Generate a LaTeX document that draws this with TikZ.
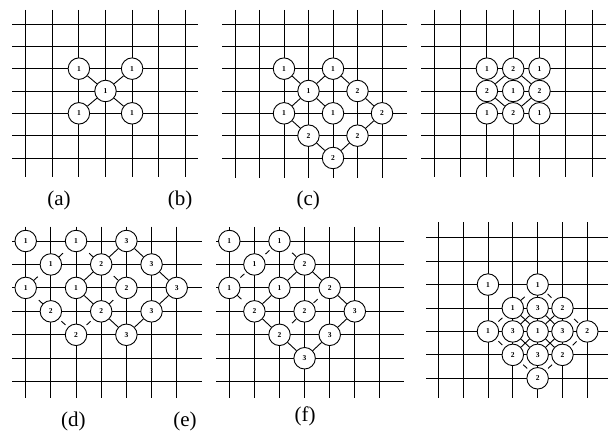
\documentclass[tikz,border=0pt]{standalone}
\usepackage{fontspec}
\setmainfont{Liberation Serif}
\usetikzlibrary{calc}
\tikzset{
  gln/.style={line width=0.9pt},
  vx/.style={circle,draw,fill=white,minimum size=21.5pt,inner sep=0pt,line width=0.9pt,font=\fontsize{7.5}{8}\selectfont\bfseries},
  lk/.style={line width=0.9pt},
  capt/.style={font=\fontsize{21}{24}\selectfont,inner sep=0pt}
}
\newcommand\tk[4]{\draw[lk] ($(#1)!#3!(#2)$) -- ($(#1)!#4!(#2)$);}
\newcommand\pgrid[4]{\foreach \i in {0,...,6} {\draw[gln] (\i,#3) -- (\i,#4); \draw[gln] (#1,\i) -- (#2,\i);}}
\begin{document}
\begin{tikzpicture}[x=1pt,y=-1pt]
\useasboundingbox (0,0) rectangle (609,433);

% ---------- panel (a) ----------
\begin{scope}[shift={(25.7pt,-24pt)},x=26.6pt,y=-22.33pt]
\pgrid{-0.504}{6.48}{-0.627}{6.85}
\node[vx] (a1) at (2,2) {1};
\node[vx] (a2) at (4,2) {1};
\node[vx] (a3) at (3,3) {1};
\node[vx] (a4) at (2,4) {1};
\node[vx] (a5) at (4,4) {1};
\draw[lk] (a3) -- (a1);
\draw[lk] (a3) -- (a2);
\draw[lk] (a3) -- (a4);
\draw[lk] (a3) -- (a5);
\end{scope}

% ---------- panel (c) ----------
\begin{scope}[shift={(235pt,-24pt)},x=24.5pt,y=-22.33pt]
\pgrid{-0.53}{7.02}{-0.627}{6.88}
\node[vx] (c1) at (2,2) {1};
\node[vx] (c2) at (4,2) {1};
\node[vx] (c3) at (3,3) {1};
\node[vx] (c4) at (5,3) {2};
\node[vx] (c5) at (2,4) {1};
\node[vx] (c6) at (4,4) {1};
\node[vx] (c7) at (6,4) {2};
\node[vx] (c8) at (3,5) {2};
\node[vx] (c9) at (5,5) {2};
\node[vx] (c10) at (4,6) {2};
\draw[lk] (c3) -- (c1);
\draw[lk] (c3) -- (c2);
\draw[lk] (c3) -- (c5);
\draw[lk] (c3) -- (c6);
\draw[lk] (c2) -- (c4);
\draw[lk] (c4) -- (c7);
\draw[lk] (c7) -- (c9);
\draw[lk] (c9) -- (c10);
\draw[lk] (c5) -- (c8);
\draw[lk] (c8) -- (c10);
\end{scope}

% ---------- top right panel ----------
\begin{scope}[shift={(434.3pt,-24pt)},x=26.3pt,y=-22.33pt]
\pgrid{-0.49}{6.52}{-0.627}{6.85}
\node[vx] (b11) at (2,2) {1};
\node[vx] (b12) at (3,2) {2};
\node[vx] (b13) at (4,2) {1};
\node[vx] (b21) at (2,3) {2};
\node[vx] (b22) at (3,3) {1};
\node[vx] (b23) at (4,3) {2};
\node[vx] (b31) at (2,4) {1};
\node[vx] (b32) at (3,4) {2};
\node[vx] (b33) at (4,4) {1};
\draw[lk] (b12) -- (b21);
\draw[lk] (b12) -- (b23);
\draw[lk] (b21) -- (b32);
\draw[lk] (b23) -- (b32);
\end{scope}

% ---------- panel (d) ----------
\begin{scope}[shift={(25.7pt,-241pt)},x=25.17pt,y=-23.45pt]
\pgrid{-0.53}{7.0}{-0.61}{6.68}
\node[vx] (d1) at (0,0) {1};
\node[vx] (d2) at (2,0) {1};
\node[vx] (d3) at (4,0) {3};
\node[vx] (d4) at (1,1) {1};
\node[vx] (d5) at (3,1) {2};
\node[vx] (d6) at (5,1) {3};
\node[vx] (d7) at (0,2) {1};
\node[vx] (d8) at (2,2) {1};
\node[vx] (d9) at (4,2) {2};
\node[vx] (d10) at (6,2) {3};
\node[vx] (d11) at (1,3) {2};
\node[vx] (d12) at (3,3) {2};
\node[vx] (d13) at (5,3) {3};
\node[vx] (d14) at (2,4) {2};
\node[vx] (d15) at (4,4) {3};
\draw[lk] (d3) -- (d5);
\draw[lk] (d3) -- (d6);
\draw[lk] (d6) -- (d10);
\draw[lk] (d10) -- (d13);
\draw[lk] (d13) -- (d15);
\draw[lk] (d12) -- (d15);
\draw[lk] (d5) -- (d8);
\draw[lk] (d8) -- (d12);
\tk{d2}{d4}{0.52}{0.68}
\tk{d4}{d7}{0.52}{0.68}
\tk{d2}{d5}{0.52}{0.68}
\tk{d7}{d11}{0.52}{0.68}
\tk{d5}{d9}{0.50}{0.66}
\tk{d9}{d12}{0.52}{0.68}
\tk{d11}{d14}{0.42}{0.58}
\tk{d14}{d12}{0.42}{0.58}
\end{scope}

% ---------- panel (f) ----------
\begin{scope}[shift={(229.3pt,-241pt)},x=25.1pt,y=-23.45pt]
\pgrid{-0.53}{6.96}{-0.6}{6.68}
\node[vx] (f1) at (0,0) {1};
\node[vx] (f2) at (2,0) {1};
\node[vx] (f3) at (1,1) {1};
\node[vx] (f4) at (3,1) {2};
\node[vx] (f5) at (0,2) {1};
\node[vx] (f6) at (2,2) {1};
\node[vx] (f7) at (4,2) {2};
\node[vx] (f8) at (1,3) {2};
\node[vx] (f9) at (3,3) {2};
\node[vx] (f10) at (5,3) {3};
\node[vx] (f11) at (2,4) {2};
\node[vx] (f12) at (4,4) {3};
\node[vx] (f13) at (3,5) {3};
\draw[lk] (f4) -- (f6);
\draw[lk] (f4) -- (f7);
\draw[lk] (f6) -- (f8);
\draw[lk] (f7) -- (f10);
\draw[lk] (f8) -- (f11);
\draw[lk] (f11) -- (f13);
\draw[lk] (f13) -- (f12);
\draw[lk] (f12) -- (f10);
\tk{f2}{f3}{0.40}{0.56}
\tk{f2}{f4}{0.50}{0.66}
\tk{f3}{f5}{0.40}{0.56}
\tk{f5}{f8}{0.32}{0.48}
\tk{f9}{f7}{0.36}{0.52}
\tk{f11}{f9}{0.50}{0.66}
\end{scope}

% ---------- bottom right panel ----------
\begin{scope}[shift={(438.3pt,-237.7pt)},x=24.83pt,y=-23.43pt]
\pgrid{-0.495}{6.83}{-0.66}{6.83}
\node[vx] (g1) at (2,2) {1};
\node[vx] (g2) at (4,2) {1};
\node[vx] (g3) at (3,3) {1};
\node[vx] (g4) at (4,3) {3};
\node[vx] (g5) at (5,3) {2};
\node[vx] (g6) at (2,4) {1};
\node[vx] (g7) at (3,4) {3};
\node[vx] (g8) at (4,4) {1};
\node[vx] (g9) at (5,4) {3};
\node[vx] (g10) at (6,4) {2};
\node[vx] (g11) at (3,5) {2};
\node[vx] (g12) at (4,5) {3};
\node[vx] (g13) at (5,5) {2};
\node[vx] (g14) at (4,6) {2};
\draw[lk] (g4) -- (g7);
\draw[lk] (g4) -- (g9);
\draw[lk] (g7) -- (g12);
\draw[lk] (g9) -- (g12);
\draw[lk] (g3) -- (g8);
\draw[lk] (g5) -- (g8);
\draw[lk] (g11) -- (g8);
\draw[lk] (g13) -- (g8);
\tk{g2}{g3}{0.52}{0.68}
\tk{g2}{g5}{0.40}{0.56}
\tk{g3}{g6}{0.42}{0.58}
\tk{g5}{g10}{0.47}{0.63}
\tk{g6}{g11}{0.42}{0.58}
\tk{g10}{g13}{0.43}{0.59}
\tk{g11}{g14}{0.42}{0.58}
\tk{g13}{g14}{0.42}{0.58}
\end{scope}

% ---------- captions ----------
\node[capt] (la) at (59,200) {(a)};
\node[capt] (lb) at (180,200) {(b)};
\node[capt] (lc) at (308.3,200) {(c)};
\node[capt] (ld) at (73.3,421) {(d)};
\node[capt] (le) at (185,421) {(e)};
\node[capt] (lf) at (305,416.5) {(f)};
\end{tikzpicture}
\end{document}
